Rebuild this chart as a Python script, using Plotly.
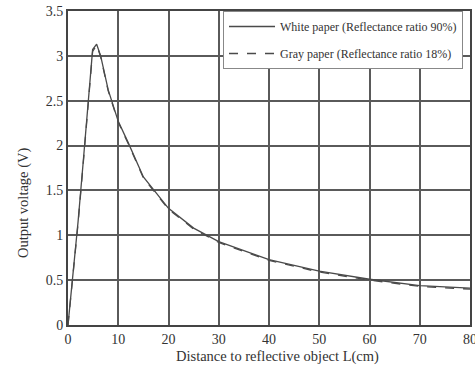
import plotly.graph_objects as go

distance_white = [0, 1, 2, 3, 4, 4.9, 5.7, 6.5, 8, 10, 12, 15, 20, 25, 30, 35, 40, 50, 60, 70, 80]
voltage_white = [0, 0.55, 1.15, 1.8, 2.45, 3.07, 3.13, 3.0, 2.62, 2.27, 2.03, 1.65, 1.3, 1.08, 0.93, 0.83, 0.73, 0.6, 0.51, 0.44, 0.41]
distance_gray = [0, 1, 2, 3, 4, 4.9, 5.7, 6.5, 8, 10, 12, 15, 20, 25, 30, 35, 40, 50, 60, 70, 80]
voltage_gray = [0, 0.54, 1.13, 1.78, 2.43, 3.05, 3.12, 2.99, 2.61, 2.26, 2.02, 1.64, 1.29, 1.07, 0.92, 0.82, 0.72, 0.59, 0.5, 0.43, 0.4]

x_ticks = [0, 10, 20, 30, 40, 50, 60, 70, 80]
y_ticks = [0, 0.5, 1, 1.5, 2, 2.5, 3, 3.5]
y_tick_labels = ["0", "0.5", "1", "1.5", "2", "2.5", "3", "3.5"]

x_title = "Distance to reflective object L(cm)"
y_title = "Output voltage (V)"

font_family = "Liberation Serif, Times New Roman, serif"
line_color = "#4a4a4a"
grid_color = "#5a5a5a"

fig = go.Figure()
fig.add_trace(go.Scatter(
    x=distance_white, y=voltage_white, mode="lines",
    name="White paper (Reflectance ratio 90%)",
    line=dict(color=line_color, width=1.3, dash="solid"),
    legendgroup="w",
))
fig.add_trace(go.Scatter(
    x=distance_gray, y=voltage_gray, mode="lines",
    name="Gray paper (Reflectance ratio 18%)",
    line=dict(color=line_color, width=1.3, dash="dash"),
    legendgroup="g",
))

fig.add_annotation(
    text=x_title, xref="paper", yref="paper", x=0.52, y=-0.101,
    xanchor="center", yanchor="middle", showarrow=False,
    font=dict(family=font_family, size=14.5, color="#333333"),
)
fig.add_annotation(
    text=y_title, xref="paper", yref="paper", x=-0.109, y=0.389,
    xanchor="center", yanchor="middle", showarrow=False, textangle=-90,
    font=dict(family=font_family, size=14.5, color="#333333"),
)

fig.update_layout(
    width=475, height=366,
    margin=dict(l=68, r=5, t=11, b=41, autoexpand=False),
    paper_bgcolor="white", plot_bgcolor="white",
    font=dict(family=font_family, size=13, color="#333333"),
    showlegend=True,
    legend=dict(
        x=0.3856, y=1.0, xanchor="left", yanchor="top",
        bgcolor="white", bordercolor="#888888", borderwidth=1,
        font=dict(family=font_family, size=12, color="#333333"),
        traceorder="grouped", tracegroupgap=8, itemwidth=46,
    ),
    xaxis=dict(
        range=[0, 80], tickvals=x_ticks, showgrid=True,
        gridcolor=grid_color, gridwidth=1.5,
        showline=True, linecolor="#444444", linewidth=2, mirror=True,
        ticks="", 
        zeroline=False, ticklabeloverflow="allow", automargin=False,
        tickfont=dict(family=font_family, size=14),
    ),
    yaxis=dict(
        range=[0, 3.5], tickvals=y_ticks, ticktext=y_tick_labels, showgrid=True,
        gridcolor=grid_color, gridwidth=1.5,
        showline=True, linecolor="#444444", linewidth=2, mirror=True,
        ticks="",
        zeroline=False, automargin=False,
        tickfont=dict(family=font_family, size=14),
    ),
)

fig.write_html(
    "out.html",
    config={"displayModeBar": False},
    post_script="document.body.style.margin='0px';",
)
